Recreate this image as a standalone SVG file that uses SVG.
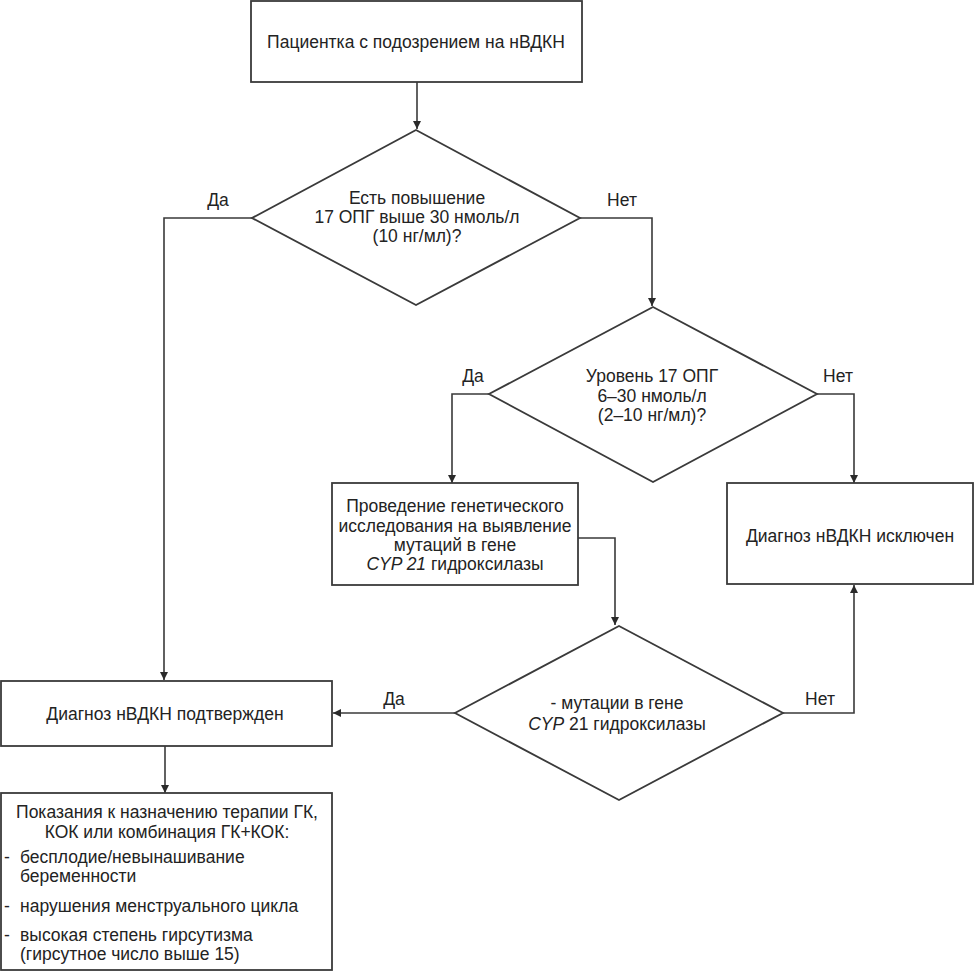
<svg xmlns="http://www.w3.org/2000/svg" width="975" height="973" viewBox="0 0 975 973">
<style>
.s{fill:#fff;stroke:#3a3a3a;stroke-width:1.8}
.c{fill:none;stroke:#3a3a3a;stroke-width:1.6}
text{font-family:"Liberation Sans",Arial,sans-serif;font-size:17.5px;fill:#232323}
.m{text-anchor:middle}
.i{font-style:italic}
</style>
<defs>
<marker id="a" viewBox="0 0 10 10" refX="10" refY="5" markerWidth="8" markerHeight="8" markerUnits="userSpaceOnUse" orient="auto">
<path d="M0,0L10,5L0,10z" fill="#2a2a2a"/>
</marker>
</defs>
<rect width="975" height="973" fill="#fff"/>
<g id="connectors">
<path class="c" d="M417,82V129" marker-end="url(#a)"/>
<path class="c" d="M252,218H164V680" marker-end="url(#a)"/>
<path class="c" d="M580,218H652V306" marker-end="url(#a)"/>
<path class="c" d="M489,394H452V483" marker-end="url(#a)"/>
<path class="c" d="M817,394H854V483" marker-end="url(#a)"/>
<path class="c" d="M578,538H615V625" marker-end="url(#a)"/>
<path class="c" d="M455,713H333" marker-end="url(#a)"/>
<path class="c" d="M783,713H854V585" marker-end="url(#a)"/>
<path class="c" d="M165,746V793" marker-end="url(#a)"/>
<text class="m" x="218" y="206">Да</text>
<text class="m" x="622" y="206">Нет</text>
<text class="m" x="473" y="382">Да</text>
<text class="m" x="838" y="382">Нет</text>
<text class="m" x="394" y="705">Да</text>
<text class="m" x="820" y="705">Нет</text>
</g>
<g id="start">
<rect class="s" x="251" y="1" width="331" height="81"/>
<text class="m" x="416" y="48">Пациентка с подозрением на нВДКН</text>
</g>
<g id="decision1">
<path class="s" d="M416,130L580,218L416,305L252,218z"/>
<text class="m" x="417" y="204">Есть повышение</text>
<text class="m" x="417" y="223">17 ОПГ выше 30 нмоль/л</text>
<text class="m" x="417" y="242">(10 нг/мл)?</text>
</g>
<g id="decision2">
<path class="s" d="M653,307L817,394L653,482L489,394z"/>
<text class="m" x="652" y="382">Уровень 17 ОПГ</text>
<text class="m" x="652" y="402">6–30 нмоль/л</text>
<text class="m" x="652" y="421">(2–10 нг/мл)?</text>
</g>
<g id="genetic">
<rect class="s" x="332" y="483" width="246" height="102"/>
<text class="m" x="455" y="512">Проведение генетического</text>
<text class="m" x="455" y="532">исследования на выявление</text>
<text class="m" x="455" y="551">мутаций в гене</text>
<text class="m" x="455" y="570"><tspan class="i">CYP 21</tspan> гидроксилазы</text>
</g>
<g id="excluded">
<rect class="s" x="727" y="483" width="246" height="101"/>
<text class="m" x="850" y="542">Диагноз нВДКН исключен</text>
</g>
<g id="decision3">
<path class="s" d="M619,626L783,713L619,800L455,713z"/>
<text class="m" x="617" y="709">- мутации в гене</text>
<text class="m" x="617" y="730"><tspan class="i">CYP</tspan> 21 гидроксилазы</text>
</g>
<g id="confirmed">
<rect class="s" x="1" y="681" width="331" height="65"/>
<text class="m" x="165" y="720">Диагноз нВДКН подтвержден</text>
</g>
<g id="indications">
<rect class="s" x="1" y="793" width="331" height="177"/>
<text class="m" x="167" y="818">Показания к назначению терапии ГК,</text>
<text class="m" x="167" y="838">КОК или комбинация ГК+КОК:</text>
<text x="4" y="863">-</text><text x="20" y="863">бесплодие/невынашивание</text>
<text x="20" y="882">беременности</text>
<text x="4" y="912">-</text><text x="20" y="912">нарушения менструального цикла</text>
<text x="4" y="941">-</text><text x="20" y="941">высокая степень гирсутизма</text>
<text x="20" y="960">(гирсутное число выше 15)</text>
</g>
</svg>
